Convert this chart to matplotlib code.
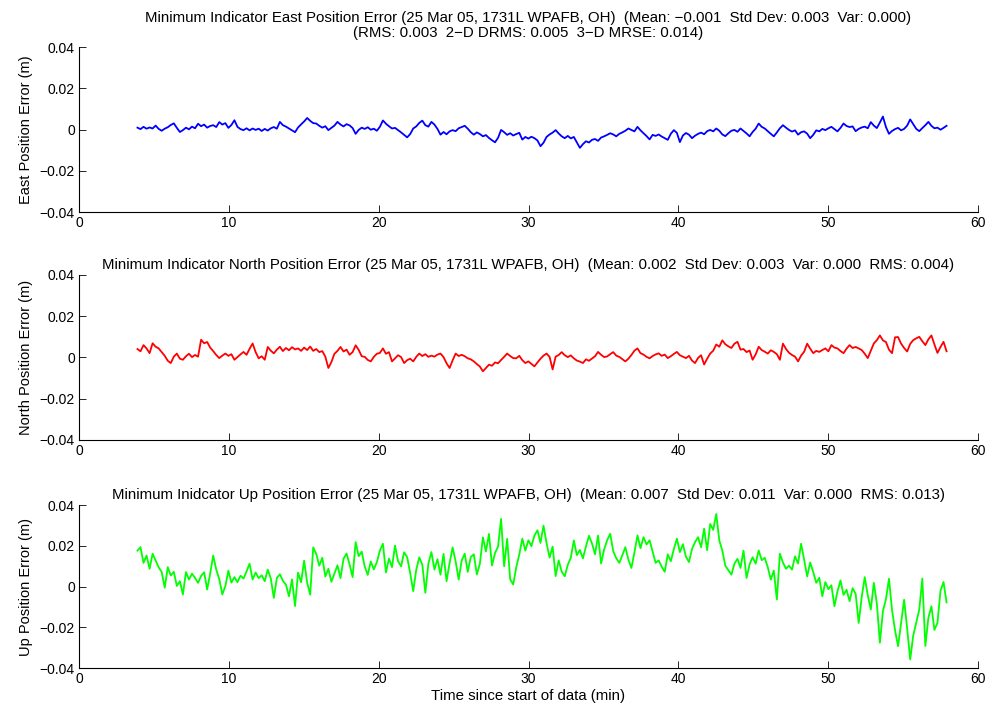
import numpy as np
import matplotlib
matplotlib.use('Agg')
import matplotlib.pyplot as plt

plt.rcParams['font.family'] = ['Liberation Sans', 'DejaVu Sans']
plt.rcParams['font.size'] = 10

# position errors, in mm, every ~0.2 min
east_mm = [
    0.9, 0.2, 1.3, 0.4, 1.0, 0.5, 1.9, 0.3, -0.6, 0.4, 1.1, 2.2, 3.0, 0.8, -1.2,
    -0.3, 0.9, 0.1, 1.4, 0.6, 2.8, 1.6, 2.4, 0.9, 1.7, 2.1, 1.2, 3.6, 2.4, 3.1,
    0.8, 2.2, 4.5, 1.3, 0.2, -0.3, 0.6, -0.4, 0.5, -0.2, 0.4, -0.7, 0.3, -0.5, 0.6,
    1.2, 0.4, 3.7, 2.1, 1.4, 0.5, -0.4, -1.3, 1.0, 2.5, 3.9, 5.6, 4.2, 3.1, 2.9,
    1.8, 0.9, 1.6, -0.3, 0.8, 1.9, 3.7, 2.4, 1.5, 2.6, 2.0, 0.7, -2.1, -0.2, 0.9,
    0.3, 1.1, -0.1, 0.4, -0.6, 1.3, 4.4, 2.8, 1.6, 0.5, 0.8, -0.3, -1.4, -2.6, -3.8,
    -2.2, 0.5, 1.5, 3.2, 4.3, 2.1, 1.4, 3.7, 2.4, 0.3, -2.5, -1.2, -2.3, -0.9, -0.3,
    -0.8, 0.6, 1.2, 1.8, 0.4, -1.3, -2.5, -1.4, -2.2, -3.3, -2.7, -4.1, -5.2, -6.2, -4.0,
    -0.2, -1.3, -2.6, -1.8, -2.9, -2.2, -1.6, -4.9, -3.6, -4.4, -3.5, -4.2, -5.3, -8.1, -6.4,
    -3.6, -2.4, -1.5, -0.3, -1.9, -3.3, -4.2, -3.1, -4.3, -3.6, -6.2, -8.9, -7.1, -5.7, -6.3,
    -5.0, -4.6, -5.5, -3.9, -3.3, -2.6, -1.8, -2.4, -3.3, -2.1, -1.4, -0.6, 0.5, -0.2, -0.9,
    1.3, -0.4, -1.8, -3.2, -4.8, -2.6, -3.1, -2.4, -3.4, -4.2, -5.0, -2.1, -0.3, -1.6, -6.1,
    -2.9, -1.7, -2.5, -4.2, -3.0, -2.1, -1.5, -2.3, -0.8, -0.2, -0.9, 0.5, -0.6, -2.4, -3.2,
    -1.8, -0.6, -0.2, -1.1, 0.5, -0.7, -1.9, -3.3, -1.2, 0.4, 2.9, 1.3, 0.5, -0.8, -2.1,
    -3.3, -1.4, 0.6, 2.1, 0.9, -0.2, -1.0, -0.4, -2.5, -1.3, -0.9, -2.0, -4.2, -2.6, -0.4,
    -0.9, 0.3, -0.3, 0.6, 1.3, 0.2, -0.9, 0.8, 2.9, 1.7, 1.2, 1.5, -0.8, 0.3, 1.0,
    1.4, 0.6, 3.6, 1.9, 0.7, 3.4, 6.3, 1.2, -2.1, -0.7, 0.2, 0.8, -0.4, 0.3, 1.9,
    4.9, 2.6, 0.3, -0.8, 0.7, 2.1, 3.7, 1.8, 0.6, 0.9, -0.1, 0.8, 1.8,
]
north_mm = [
    4.1, 3.0, 6.0, 4.4, 2.1, 6.9, 5.2, 4.4, 2.6, 0.8, -1.6, -2.7, 0.4, 1.9, -0.6,
    -1.1, 0.6, 1.8, 0.2, 1.2, 0.4, 8.6, 6.9, 7.5, 4.8, 3.1, 1.2, -0.3, 0.9, 1.9,
    0.8, 1.6, -1.1, 0.2, 1.5, 2.7, 1.3, 4.2, 6.8, 2.6, -0.4, 0.6, -1.1, 5.1, 3.3,
    2.0, 3.8, 5.2, 3.1, 4.6, 3.5, 5.0, 3.9, 4.4, 3.2, 4.8, 3.6, 5.3, 3.2, 4.1,
    2.6, 3.1, 0.4, -5.1, -2.2, 1.8, 3.2, 5.1, 2.9, 3.8, 1.3, 2.6, 5.9, 3.7, 0.6,
    0.3, -1.2, -1.9, 0.3, 1.8, 2.2, 4.4, 1.8, 2.6, -1.9, -0.4, 1.1, 0.2, -2.7, -1.3,
    -0.6, -1.9, 0.3, 1.9, 0.7, 1.6, 0.3, 0.9, 0.4, 1.4, 1.9, 0.2, -2.8, -5.1, -1.4,
    1.9, 0.7, 1.3, 0.6, -0.4, -0.9, -1.9, -3.2, -4.4, -6.7, -5.1, -3.5, -4.0, -2.4, -2.8,
    -1.2, 0.3, 1.9, 0.7, -0.3, -0.4, 0.8, -1.3, -2.7, -1.9, -3.1, -4.3, -2.4, -0.6, 0.9,
    1.9, 0.3, -5.8, 0.4, 1.2, 2.6, 1.1, 0.2, 1.0, -0.4, -1.5, -2.0, -2.7, -0.9, -1.6,
    -0.5, 0.6, 2.7, 1.3, 0.2, 0.5, 1.6, 2.6, 0.9, 0.3, -0.8, -1.9, -0.6, 1.2, 3.3,
    4.4, 2.1, 1.4, 0.3, -0.4, 0.7, 1.5, 2.0, 0.8, 1.4, -0.3, 0.6, 1.7, 2.7, 1.1,
    0.4, -0.3, 0.8, -1.5, -2.7, -0.2, 1.1, -3.4, -0.6, 1.9, 3.3, 6.3, 5.2, 8.3, 6.4,
    5.4, 4.6, 6.7, 7.6, 3.8, 4.1, 2.6, 3.4, -1.1, 1.5, 5.2, 3.6, 2.8, 1.9, 3.5,
    2.7, 1.6, -1.1, 6.7, 4.2, 2.3, 1.2, 0.4, -1.9, 0.9, 2.8, 6.7, 4.3, 2.1, 3.2,
    2.7, 3.6, 4.4, 3.0, 6.0, 4.8, 4.4, 3.1, 2.1, 4.3, 6.0, 4.6, 5.1, 4.4, 3.6,
    1.8, -0.3, 3.2, 6.8, 8.4, 10.7, 8.3, 7.5, 3.8, 2.1, 9.8, 9.9, 6.7, 4.6, 2.9,
    6.6, 8.4, 9.3, 10.0, 7.9, 6.0, 8.8, 10.7, 6.3, 2.2, 5.1, 7.6, 3.0,
]
up_mm = [
    17.6, 19.3, 11.6, 15.2, 8.7, 16.1, 12.8, 9.4, 7.1, -0.6, 9.5, 5.4, 7.2, 0.3, 2.6,
    -3.9, 7.1, 3.4, 6.3, 4.2, 1.8, 5.2, 7.0, -1.5, 6.4, 15.2, 8.3, 3.6, -3.9, 0.2,
    7.8, 1.9, 4.6, 2.1, 5.3, 3.9, 7.4, 11.2, 3.4, 6.9, 4.1, 5.5, 2.6, 8.3, 4.0,
    -5.6, 4.2, 6.0, 2.8, 0.9, -4.8, 3.5, -9.6, 6.8, 2.1, 12.7, 1.9, -4.0, 19.2, 16.0,
    10.2, 14.1, 4.9, 8.7, 2.3, 6.3, 10.4, 4.1, 13.6, 16.2, 10.8, 4.6, 21.8, 14.9, 17.1,
    9.8, 5.7, 12.3, 8.4, 11.9, 17.6, 21.0, 6.9, 13.7, 9.5, 20.1, 12.4, 9.9, 16.8, 14.4,
    6.6, -2.3, 8.2, 14.3, 10.7, -3.1, 11.2, 16.9, 8.3, 13.4, 5.8, 16.0, 2.6, 11.5, 19.2,
    12.3, 3.4, 12.8, 16.1, 7.2, 14.5, 15.8, 5.9, 11.2, 24.1, 17.2, 25.8, 10.3, 16.4, 19.7,
    33.2, 9.9, 23.4, 3.5, 1.0, 9.4, 15.7, 23.5, 17.6, 22.7, 19.8, 25.0, 27.6, 21.4, 29.9,
    21.3, 14.2, 19.6, 5.1, 12.8, 7.3, 5.0, 10.6, 14.1, 22.6, 15.4, 17.9, 13.8, 19.6, 24.9,
    21.1, 15.8, 25.0, 11.3, 18.2, 22.7, 25.9, 17.4, 13.9, 11.6, 15.3, 19.3, 13.2, 9.1, 16.7,
    25.1, 18.8, 24.2, 20.6, 22.7, 17.1, 11.6, 12.8, 9.7, 7.2, 15.8, 12.4, 18.3, 23.5, 16.9,
    20.8, 14.6, 12.0, 18.4, 21.8, 24.2, 19.3, 28.4, 17.8, 30.7, 27.8, 35.6, 22.7, 17.6, 10.2,
    8.0, 5.8, 11.2, 13.6, 9.1, 17.6, 4.2, 10.8, 14.4, 11.2, 17.7, 12.9, 14.1, 9.5, 3.4,
    7.8, -6.4, 16.1, 11.8, 8.7, 10.2, 8.3, 14.8, 11.3, 21.0, 13.2, 4.9, 11.8, 7.1, 1.8,
    4.3, -4.8, 2.2, -1.3, 0.6, -9.7, -2.4, 3.0, -4.1, -1.6, -7.2, -0.8, -3.6, -17.9, -5.2,
    4.6, -4.3, -11.3, 1.8, -8.4, -27.6, -12.1, -6.2, 3.8, -11.4, -21.5, -29.3, -17.8, -6.5, -20.7,
    -35.8, -24.1, -17.6, -11.3, 3.9, -29.2, -15.4, -9.7, -21.3, -17.8, -2.1, 2.2, -7.8,
]

t_start, t_end = 3.9, 57.9  # minutes since start of data

titles = [
    "Minimum Indicator East Position Error (25 Mar 05, 1731L WPAFB, OH)  (Mean: \u22120.001  Std Dev: 0.003  Var: 0.000)\n"
    "(RMS: 0.003  2\u2212D DRMS: 0.005  3\u2212D MRSE: 0.014)",
    "Minimum Indicator North Position Error (25 Mar 05, 1731L WPAFB, OH)  (Mean: 0.002  Std Dev: 0.003  Var: 0.000  RMS: 0.004)",
    "Minimum Inidcator Up Position Error (25 Mar 05, 1731L WPAFB, OH)  (Mean: 0.007  Std Dev: 0.011  Var: 0.000  RMS: 0.013)",
]
ylabels = ["East Position Error (m)", "North Position Error (m)", "Up Position Error (m)"]
colors = ["#0000ff", "#ff0000", "#00ff00"]
yticks = [-0.04, -0.02, 0, 0.02, 0.04]
ytick_labels = ["\u22120.04", "\u22120.02", "0", "0.02", "0.04"]
xticks = [0, 10, 20, 30, 40, 50, 60]

fig = plt.figure(figsize=(9.89, 7.06), dpi=100)
boxes = [
    [0.0799, 0.6997, 0.909, 0.2337],
    [0.0799, 0.3768, 0.909, 0.2337],
    [0.0799, 0.0538, 0.909, 0.2309],
]
title_pads = [7, 4, 4]

for box, series, title, ylab, col, tpad in zip(boxes, [east_mm, north_mm, up_mm], titles, ylabels, colors, title_pads):
    ax = fig.add_axes(box)
    vals = np.array(series) / 1000.0
    t = np.linspace(t_start, t_end, len(vals))
    ax.plot(t, vals, color=col, linewidth=1.3)
    ax.set_xlim(0, 60)
    ax.set_ylim(-0.04, 0.04)
    ax.set_xticks(xticks)
    ax.set_yticks(yticks)
    ax.set_yticklabels(ytick_labels)
    ax.spines['top'].set_visible(False)
    ax.spines['right'].set_visible(False)
    ax.tick_params(direction='in', length=5, width=0.6, labelsize=10, pad=3)
    for s in ['left', 'bottom']:
        ax.spines[s].set_linewidth(0.8)
    ax.set_title(title, fontsize=10.8, pad=tpad, linespacing=1.1)
    ax.set_ylabel(ylab, fontsize=10.5, labelpad=5)

ax.set_xlabel("Time since start of data (min)", fontsize=10.8, labelpad=2)

fig.savefig("out.png", dpi=100)
